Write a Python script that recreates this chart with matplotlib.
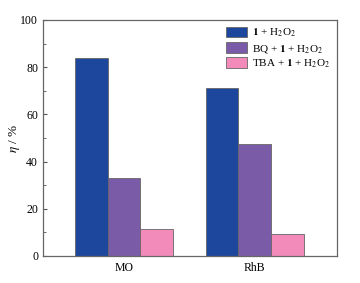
import matplotlib.pyplot as plt
import numpy as np

plt.rcParams['font.family'] = ['Liberation Serif', 'DejaVu Serif']
plt.rcParams['mathtext.fontset'] = 'stix'

dyes = ['MO', 'RhB']
s1 = [84, 71]        # 1 + H2O2
s_bq = [33, 47.5]    # BQ + 1 + H2O2
s_tba = [11.5, 9.3]  # TBA + 1 + H2O2
labels = [r'$\mathbf{1}$ + H$_2$O$_2$',
          r'BQ + $\mathbf{1}$ + H$_2$O$_2$',
          r'TBA + $\mathbf{1}$ + H$_2$O$_2$']
colors = ['#1d479d', '#7a5ba8', '#f28bba']

fig = plt.figure(figsize=(3.6, 2.83), dpi=100)
ax = fig.add_axes([43/360, 1-256/283, 294/360, 236/283])

x = np.arange(len(dyes))
w = 0.25
for i, (vals, lab, c) in enumerate(zip([s1, s_bq, s_tba], labels, colors)):
    ax.bar(x + (i-1)*w, vals, w, color=c, edgecolor='#666666', linewidth=0.6, label=lab)

ax.set_xlim(-0.62, 1.63)
ax.set_ylim(0, 100)
ax.set_xticks(x)
ax.set_xticklabels(dyes, fontsize=8.5)
ax.tick_params(axis='x', length=0, pad=4)
ax.set_yticks(np.arange(0, 101, 20))
ax.set_yticks(np.arange(0, 101, 10), minor=True)
ax.tick_params(axis='y', which='major', direction='in', length=3, labelsize=8.5, color='#555555')
ax.tick_params(axis='y', which='minor', direction='in', length=1.8, color='#555555')
ax.set_ylabel(r'$\eta$ / %', fontsize=9.5, labelpad=-1)
for s in ax.spines.values():
    s.set_color('#666666')
    s.set_linewidth(0.9)

leg = ax.legend(loc='upper right', fontsize=8, frameon=False,
                handlelength=1.9, handleheight=1.1,
                handletextpad=0.5, borderpad=0.2, labelspacing=0.25,
                borderaxespad=0.4)

fig.savefig('out.png', dpi=100)
